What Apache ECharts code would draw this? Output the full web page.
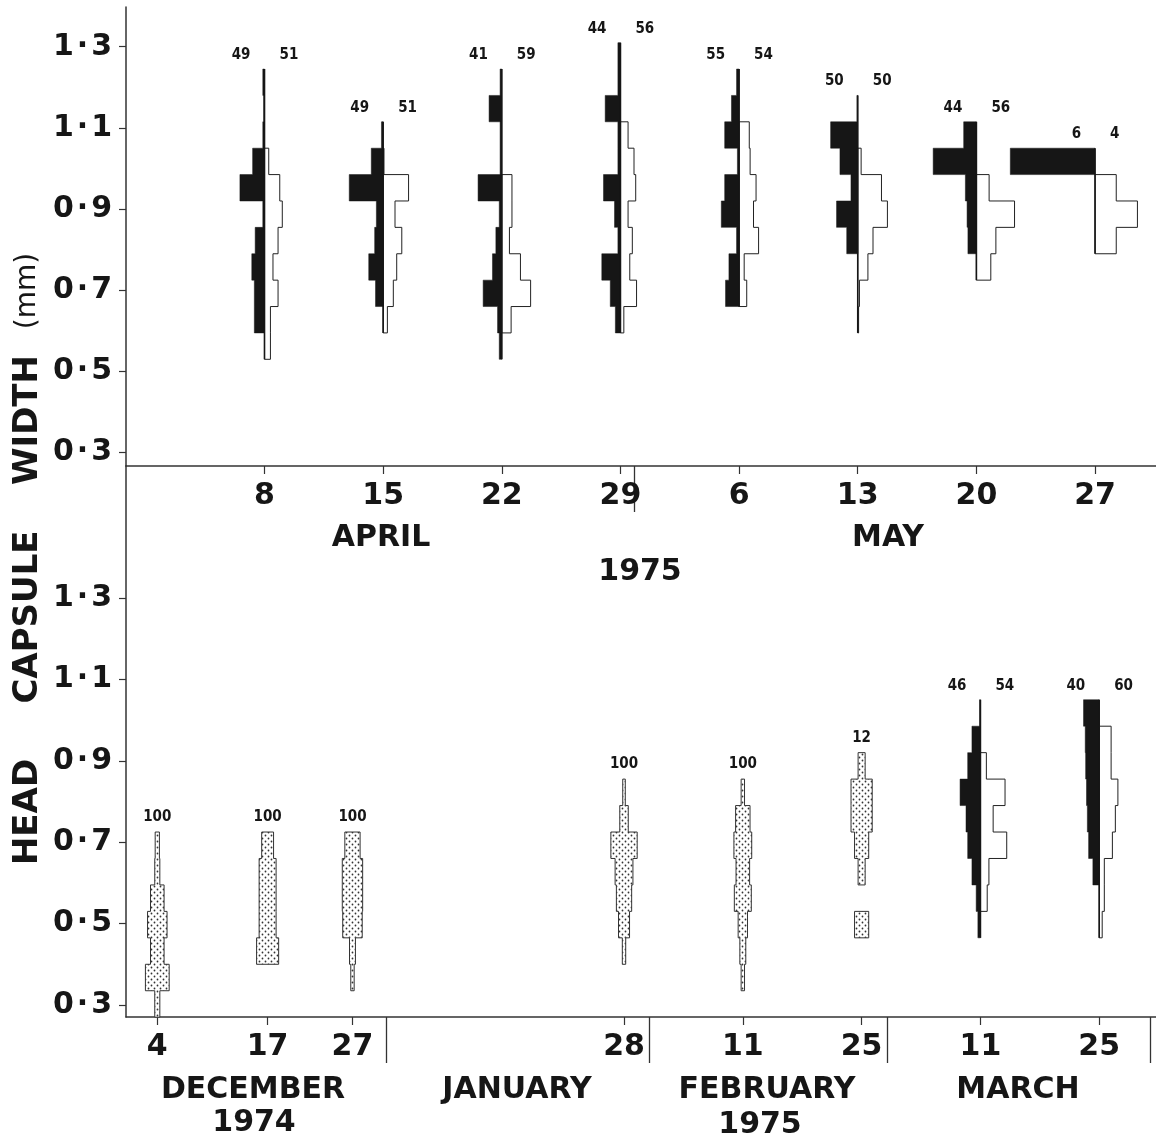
<!DOCTYPE html>
<html><head><meta charset="utf-8">
<script src="https://cdn.jsdelivr.net/npm/echarts@6/dist/echarts.min.js"></script>
<style>html,body{margin:0;padding:0;background:#fff}#c{width:1156px;height:1140px}</style>
</head><body><div id="c"></div>
<script>
// ---- bins of head-capsule width (mm) ----
const BIN_LOW = 0.27;
const BIN_STEP = 0.065;
const yTickValues = [0.3, 0.5, 0.7, 0.9, 1.1, 1.3];

// ---- Spring 1975 (days after 8 April) ----
const springDays = [0, 7, 14, 21, 28, 35, 42, 49];
const springTickLabels = ['8', '15', '22', '29', '6', '13', '20', '27'];
const springMonthEnds = [21.8];
const springDarkN = [49, 49, 41, 44, 55, 50, 44, 6];
const springLightN = [51, 51, 59, 56, 54, 50, 56, 4];
const springDarkStart = [5, 6, 4, 5, 6, 8, 8, 11];
const springDarkPct = [
  [12, 12, 15, 11, 2, 29, 14, 2, 1, 2],
  [9, 17, 10, 8, 40, 14, 2],
  [3, 5, 22, 11, 7, 3, 28, 2, 2, 15, 2],
  [6, 12, 22, 3, 7, 20, 3, 3, 18, 3, 3],
  [16, 12, 3, 21, 17, 2, 17, 9, 3],
  [13, 25, 8, 21, 32, 1],
  [10, 11, 13, 51, 15],
  [100]
];
const springLightStart = [4, 5, 5, 5, 6, 5, 7, 8];
const springLightPct = [
  [7, 7, 16, 10, 16, 21, 18, 5],
  [5, 12, 16, 22, 14, 30, 1],
  [11, 34, 22, 9, 12, 12],
  [4, 19, 11, 14, 9, 18, 16, 9],
  [9, 6, 23, 17, 20, 13, 12],
  [1, 2, 12, 18, 35, 28, 4],
  [17, 23, 45, 15],
  [25, 50, 25]
];

// ---- Winter 1974-75 (days after 4 December) ----
const winterDays = [0, 13, 23, 55, 69, 83, 97, 111];
const winterTickLabels = ['4', '17', '27', '28', '11', '25', '11', '25'];
const winterMonthEnds = [27, 58, 86, 117];
const winterMixedN = [100, 100, 100, 100, 100, 12, null, null];
const winterMixedStart = [0, 2, 1, 2, 1, 3, null, null];
const winterMixedPct = [
  [6, 28, 16, 23, 16, 6, 5],
  [26, 20, 20, 20, 14],
  [4, 7, 23, 24, 24, 18],
  [4, 13, 18, 21, 31, 10, 3],
  [4, 7, 11, 20, 16, 21, 17, 4],
  [16.7, 0, 8.3, 16.7, 25, 25, 8.3],
  null, null
];
const winterDarkN = [null, null, null, null, null, null, 46, 40];
const winterLightN = [null, null, null, null, null, null, 54, 60];
const winterDarkStart = [null, null, null, null, null, null, 3, 5];
const winterDarkPct = [null, null, null, null, null, null,
  [3, 5, 10, 15, 17, 24, 15, 10, 1],
  [7.5, 12.5, 14, 15, 16, 16.5, 18.5]
];
const winterLightStart = [null, null, null, null, null, null, 4, 3];
const winterLightPct = [null, null, null, null, null, null,
  [8, 10, 31, 15, 29, 7],
  [3.5, 6, 6, 15.5, 19, 22, 14, 14]
];

// ---- drawing helpers ----
const INK = '#161616';
const BIG = 'bold 30px "DejaVu Sans", sans-serif';
const SMALL = 'bold 15px "Liberation Sans Narrow", "DejaVu Sans Condensed", sans-serif';

const pc = document.createElement('canvas');
pc.width = 6; pc.height = 6;
const g = pc.getContext('2d');
g.fillStyle = '#fff'; g.fillRect(0, 0, 6, 6);
g.fillStyle = '#333';
g.beginPath(); g.arc(1.5, 1.5, 0.9, 0, Math.PI * 2); g.fill();
g.beginPath(); g.arc(4.5, 4.5, 0.9, 0, Math.PI * 2); g.fill();
const STIPPLE = { image: pc, repeat: 'repeat' };

function edge(j) { return BIN_LOW + BIN_STEP * j; }
function runs(arr) {
  const out = []; let cur = null;
  arr.forEach((v, n) => {
    if (v > 0) { if (!cur) { cur = { o: n, v: [] }; out.push(cur); } cur.v.push(v); }
    else cur = null;
  });
  return out;
}

function makeRender(p) {
  return function (params, api) {
    const i = params.dataIndex;
    const day = api.value(0);
    const C = (dx, v) => api.coord([day + dx, v]);
    const kids = [];
    let top = -Infinity, bottom = Infinity;
    function side(start, arr, sign, style) {
      runs(arr).forEach(r => {
        const s0 = start + r.o;
        const pts = [C(0, edge(s0))];
        r.v.forEach((v, n) => {
          const w = sign * v * p.k;
          pts.push(C(w, edge(s0 + n)), C(w, edge(s0 + n + 1)));
        });
        pts.push(C(0, edge(s0 + r.v.length)));
        kids.push({ type: 'polygon', shape: { points: pts }, style: style });
      });
      top = Math.max(top, edge(start + arr.length));
      bottom = Math.min(bottom, edge(start));
    }
    if (p.mixed[i]) {
      const start = p.mixedStart[i], arr = p.mixed[i];
      runs(arr).forEach(r => {
        const s0 = start + r.o, right = [], left = [];
        r.v.forEach((v, n) => {
          const w = v * p.k / 2;
          right.push(C(w, edge(s0 + n)), C(w, edge(s0 + n + 1)));
          left.push(C(-w, edge(s0 + n)), C(-w, edge(s0 + n + 1)));
        });
        kids.push({ type: 'polygon', shape: { points: right.concat(left.reverse()) },
          style: { fill: STIPPLE, stroke: '#333', lineWidth: 1 } });
      });
      top = edge(start + arr.length);
      const t = C(0, top);
      kids.push({ type: 'text', x: t[0], y: t[1] - 15,
        style: { text: String(p.mixedN[i]), font: SMALL, fill: INK, textAlign: 'center', textVerticalAlign: 'middle' } });
    } else {
      side(p.lightStart[i], p.light[i], 1, { fill: '#fff', stroke: '#222', lineWidth: 1 });
      side(p.darkStart[i], p.dark[i], -1, { fill: INK, stroke: INK, lineWidth: 0.5 });
      const a = C(0, top), b = C(0, bottom);
      kids.push({ type: 'line', shape: { x1: a[0], y1: a[1], x2: b[0], y2: b[1] },
        style: { stroke: INK, lineWidth: 1.6 } });
      kids.push({ type: 'text', x: a[0] - 14, y: a[1] - 14,
        style: { text: String(p.darkN[i]), font: SMALL, fill: INK, textAlign: 'right', textVerticalAlign: 'middle' } });
      kids.push({ type: 'text', x: a[0] + 15, y: a[1] - 14,
        style: { text: String(p.lightN[i]), font: SMALL, fill: INK, textAlign: 'left', textVerticalAlign: 'middle' } });
    }
    return { type: 'group', children: kids };
  };
}

const springPanel = { k: 0.05, mixed: springDays.map(() => null), mixedStart: [], mixedN: [],
  dark: springDarkPct, darkStart: springDarkStart, darkN: springDarkN,
  light: springLightPct, lightStart: springLightStart, lightN: springLightN };
const winterPanel = { k: 0.1, mixed: winterMixedPct, mixedStart: winterMixedStart, mixedN: winterMixedN,
  dark: winterDarkPct, darkStart: winterDarkStart, darkN: winterDarkN,
  light: winterLightPct, lightStart: winterLightStart, lightN: winterLightN };

const axisLine = { show: true, onZero: false, lineStyle: { color: '#333', width: 1.5 } };
function yAxis(grid, min, max) {
  return {
    type: 'value', gridIndex: grid, min: min, max: max, position: 'left',
    axisLine: axisLine, splitLine: { show: false },
    axisTick: { show: true, length: 7, customValues: yTickValues, lineStyle: { color: '#333', width: 1.2 } },
    axisLabel: { customValues: yTickValues, margin: 14, fontFamily: 'DejaVu Sans', fontWeight: 'bold', fontSize: 30, color: INK,
      formatter: v => v.toFixed(1).replace('.', '\u200a\u00b7\u200a') }
  };
}
function xAxis(grid, min, max, days, labels) {
  return {
    type: 'value', gridIndex: grid, min: min, max: max, position: 'bottom',
    axisLine: axisLine, splitLine: { show: false },
    axisTick: { show: true, length: 8, customValues: days, lineStyle: { color: '#333', width: 1.2 } },
    axisLabel: { customValues: days, margin: 15, fontFamily: 'DejaVu Sans', fontWeight: 'bold', fontSize: 30, color: INK,
      formatter: v => labels[days.indexOf(v)] }
  };
}
function dividerAxis(grid, min, max, ends) {
  return {
    type: 'value', gridIndex: grid, min: min, max: max, position: 'bottom',
    axisLine: { show: false, onZero: false }, splitLine: { show: false },
    axisTick: { show: true, length: 46, customValues: ends, lineStyle: { color: '#333', width: 1.3 } },
    axisLabel: { show: false }
  };
}

function txt(x, y, s, font, rot) {
  return { type: 'text', x: x, y: y, rotation: rot || 0,
    style: { text: s, font: font, fill: INK, textAlign: 'center', textVerticalAlign: 'middle' } };
}

const SP = [-8.171, 52.596];
const WI = [-3.688, 117.69];

const chart = echarts.init(document.getElementById('c'), null, { renderer: 'canvas' });
chart.setOption({
  animation: false,
  backgroundColor: '#fff',
  grid: [
    { left: 126, top: 7, width: 1030, height: 459, outerBoundsMode: 'none' },
    { left: 126, top: 466, width: 1030, height: 551, outerBoundsMode: 'none' }
  ],
  xAxis: [
    xAxis(0, SP[0], SP[1], springDays, springTickLabels),
    dividerAxis(0, SP[0], SP[1], springMonthEnds),
    xAxis(1, WI[0], WI[1], winterDays, winterTickLabels),
    dividerAxis(1, WI[0], WI[1], winterMonthEnds)
  ],
  yAxis: [yAxis(0, 0.2672, 1.3978), yAxis(1, 0.2705, 1.6243)],
  series: [
    { type: 'custom', coordinateSystem: 'cartesian2d', xAxisIndex: 0, yAxisIndex: 0, clip: false,
      data: springDays.map(d => [d, 0.8]), renderItem: makeRender(springPanel) },
    { type: 'custom', coordinateSystem: 'cartesian2d', xAxisIndex: 2, yAxisIndex: 1, clip: false,
      data: winterDays.map(d => [d, 0.8]), renderItem: makeRender(winterPanel) }
  ],
  graphic: [
    txt(381, 538, 'APRIL', BIG),
    txt(888, 538, 'MAY', BIG),
    txt(640, 572, '1975', BIG),
    txt(253, 1090, 'DECEMBER', BIG),
    txt(254, 1123, '1974', BIG),
    txt(517, 1090, 'JANUARY', BIG),
    txt(767, 1090, 'FEBRUARY', BIG),
    txt(760, 1125, '1975', BIG),
    txt(1018, 1090, 'MARCH', BIG),
    txt(28, 812, 'HEAD', 'bold 34px "DejaVu Sans", sans-serif', Math.PI / 2),
    txt(28, 617, 'CAPSULE', 'bold 34px "DejaVu Sans", sans-serif', Math.PI / 2),
    txt(28, 420, 'WIDTH', 'bold 34px "DejaVu Sans", sans-serif', Math.PI / 2),
    txt(28, 291, '(mm)', '28px "DejaVu Sans", sans-serif', Math.PI / 2)
  ]
});
</script></body></html>
